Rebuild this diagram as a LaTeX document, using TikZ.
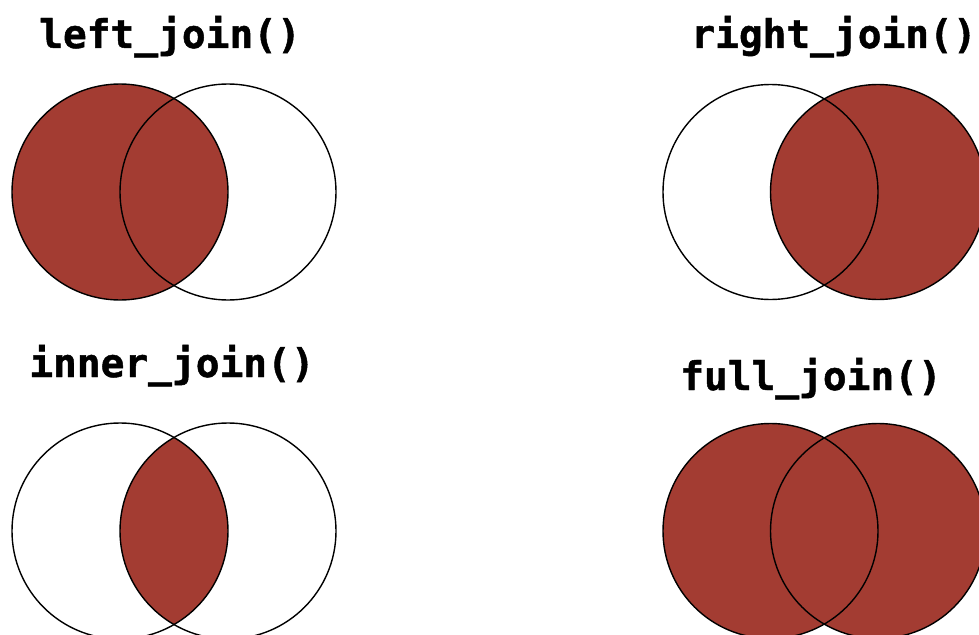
\documentclass[tikz,border=0pt]{standalone}
\usepackage{fontspec}
\newfontfamily\codefont{DejaVu Sans Mono}[BoldFeatures={FakeBold=1.2}]
\definecolor{joinred}{RGB}{163,60,50}
\begin{document}
\begin{tikzpicture}[x=1pt,y=-1pt,
  title/.style={anchor=base,inner sep=0pt,font=\codefont\bfseries\fontsize{39.5}{41}\selectfont},
  ring/.style={draw=black,line width=1.4pt},
  shade/.style={fill=joinred}]
\useasboundingbox (0,0) rectangle (979,634);
\clip (0,0) rectangle (979,634);
% titles
\node[title] (tleft) at (170,48) {left\_join()};
\node[title] (tright) at (834,48) {right\_join()};
\node[title] (tinner) at (172,377) {inner\_join()};
\node[title] (tfull) at (811,390) {full\_join()};
% left_join
\fill[shade] (120,192) circle[radius=108];
\draw[ring] (120,192) circle[radius=108];
\draw[ring] (228,192) circle[radius=108];
% right_join
\fill[shade] (878,192) circle[radius=107.5];
\draw[ring] (770.5,192) circle[radius=107.5];
\draw[ring] (878,192) circle[radius=107.5];
% inner_join
\begin{scope}
  \clip (120,531) circle[radius=108];
  \fill[shade] (228,531) circle[radius=108];
\end{scope}
\draw[ring] (120,531) circle[radius=108];
\draw[ring] (228,531) circle[radius=108];
% full_join
\fill[shade] (770.5,531) circle[radius=107.5];
\fill[shade] (878,531) circle[radius=107.5];
\draw[ring] (770.5,531) circle[radius=107.5];
\draw[ring] (878,531) circle[radius=107.5];
\end{tikzpicture}
\end{document}
